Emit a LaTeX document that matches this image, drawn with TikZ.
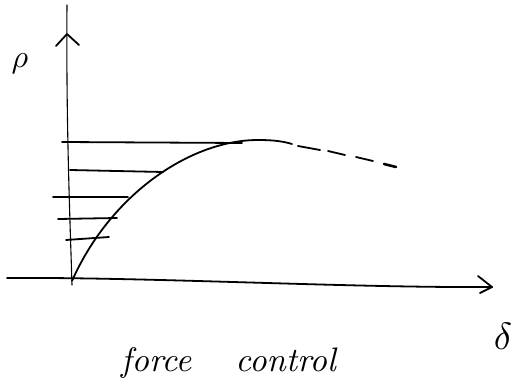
\documentclass[tikz,border=0pt]{standalone}
\usepackage{graphicx}
\usepackage{tikz}
\begin{document}
\begin{tikzpicture}[x=1pt,y=-1pt,
  pen/.style={line width=1.8pt, line cap=round, line join=round},
  thin pen/.style={line width=1.1pt, line cap=round},
  hand/.style={inner sep=0pt}]
\useasboundingbox (0,0) rectangle (515,385);
% axes
\coordinate (ytop) at (67,5);
\coordinate (O) at (72,285);
\coordinate (xl) at (7,278);
\coordinate (xr) at (492,287);
\draw[thin pen] (ytop) .. controls (66,120) and (70,220) .. (O);
\draw[pen] (xl) .. controls (150,277) and (350,288) .. (xr);
% arrowheads
\draw[pen] (56,46) -- (67,34) -- (79,45);
\draw[pen] (478,276) -- (xr) -- (480,293);
% curve
\draw[pen] (72,281) .. controls (110,195) and (190,140) .. (258,140)
  .. controls (272,140) and (282,141) .. (292,144);
\draw[pen] (298,146) -- (320,150);
\draw[pen] (328,151) -- (345,155);
\draw[pen] (356,157) -- (373,161);
\draw[line width=2.6pt, line cap=round] (384,164) -- (396,167);
% horizontal load steps
\draw[pen] (62,142) -- (242,143);
\draw[pen] (70,170) -- (163,172);
\draw[pen] (53,197) -- (128,197);
\draw[pen] (58,219) -- (117,218);
\draw[pen] (66,240) -- (109,237);
% labels
\node[hand] (P) at (20,64) {\scalebox{3.2}{$\rho$}};
\node[hand] (d) at (503,336) {\scalebox{3.8}{$\delta$}};
\node[hand, anchor=base west] (fc) at (121,372) {\scalebox{3.4}{\itshape force\hspace{1.3em}control}};
\end{tikzpicture}
\end{document}
